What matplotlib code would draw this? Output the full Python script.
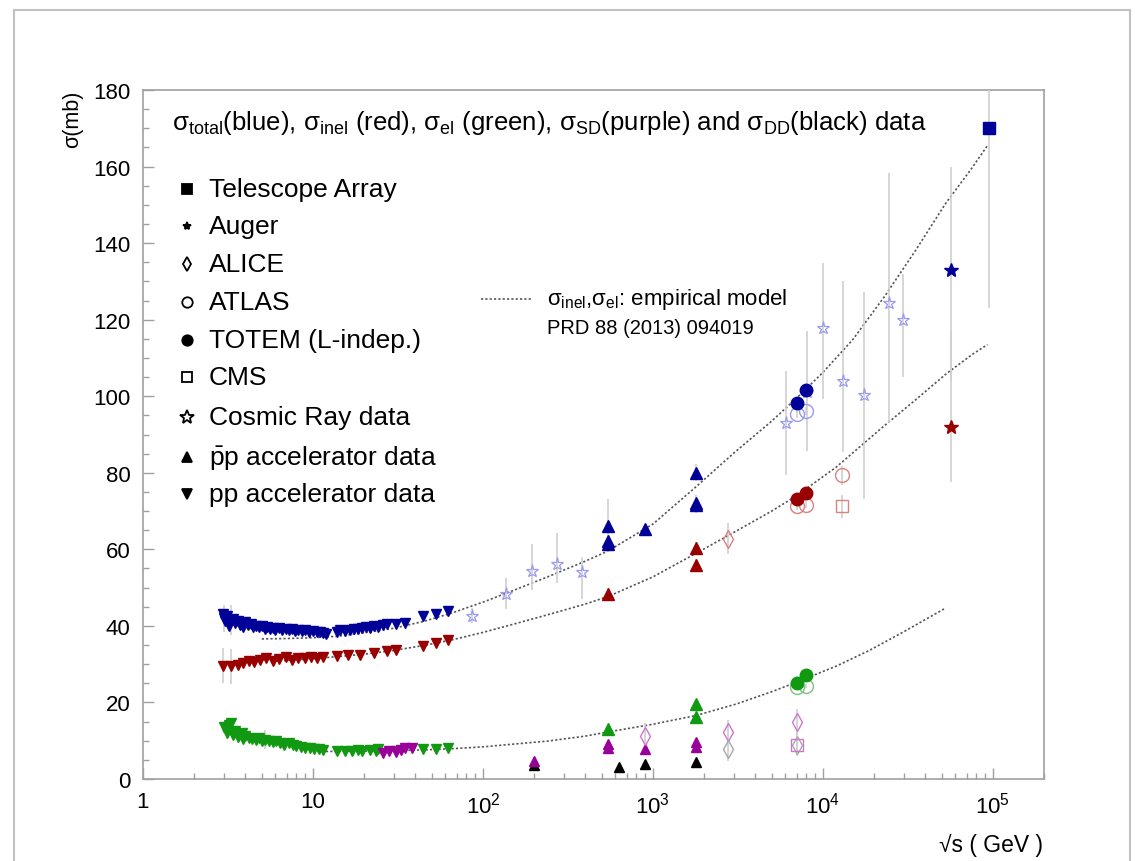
import matplotlib
matplotlib.use('Agg')
import matplotlib.pyplot as plt
from matplotlib.lines import Line2D
from matplotlib.patches import Rectangle

plt.rcParams['font.family'] = ['Liberation Sans', 'DejaVu Sans']
plt.rcParams['mathtext.fontset'] = 'custom'
plt.rcParams['mathtext.rm'] = 'Liberation Sans'
plt.rcParams['mathtext.it'] = 'Liberation Sans:italic'
plt.rcParams['mathtext.bf'] = 'Liberation Sans:bold'
plt.rcParams['mathtext.sf'] = 'Liberation Sans'

# ---------------- data ----------------
# low-energy pp accelerator data (downward triangles)
tot_pp_E = [2.95, 3.0, 3.05, 3.1, 3.2, 3.3, 3.4, 3.5, 3.6, 3.7, 3.8, 3.9, 4.0, 4.15, 4.3, 4.45, 4.6, 4.8,
            5.0, 5.2, 5.4, 5.6, 5.8, 6.0, 6.3, 6.6, 6.9, 7.2, 7.5, 7.8, 8.2, 8.6, 9.0, 9.5, 10.0, 10.5,
            11.0, 11.5, 12.0, 13.8, 14.5, 15.5, 16.5, 17.5, 18.5, 19.4, 20.5, 21.7, 23.0, 24.0, 26.0,
            27.4, 30.6, 35.0, 44.6, 52.8, 62.5]
tot_pp_s = [43.0, 42.0, 41.2, 42.6, 40.0, 41.5, 41.8, 40.8, 41.2, 40.3, 40.8, 39.8, 40.9, 40.2, 40.5,
            39.7, 40.1, 39.6, 39.9, 39.3, 39.7, 39.2, 39.5, 39.0, 39.4, 38.9, 39.2, 38.8, 39.1, 38.7,
            39.0, 38.6, 38.9, 38.5, 38.7, 38.3, 38.5, 38.1, 38.0, 38.4, 38.8, 38.6, 39.0, 39.3, 39.1,
            39.5, 39.7, 39.4, 40.0, 39.8, 40.3, 40.6, 40.5, 40.8, 42.5, 43.0, 43.8]
tot_pp_err = [1.0, 3.5, 1.0, 1.0, 1.0, 4.0, 1.0, 0.8, 1.5, 0.8, 0.8, 0.8, 0.8, 0.6, 0.6, 0.6, 0.6, 0.6,
              0.6, 0.6, 0.6, 0.6, 0.6, 0.6, 0.6, 0.6, 0.6, 0.6, 0.6, 0.6, 0.6, 0.6, 0.6, 0.6, 0.6, 0.6,
              0.6, 0.6, 0.6, 0.6, 0.6, 0.6, 0.6, 0.6, 0.6, 0.6, 0.6, 0.6, 0.6, 0.6, 0.6, 0.6, 0.6, 0.6,
              0.6, 0.6, 1.5]

inel_pp_E = [2.95, 3.3, 3.6, 3.9, 4.2, 4.5, 4.9, 5.3, 5.8, 6.3, 6.9, 7.5, 8.2, 9.0, 9.8, 10.6, 11.5,
             13.8, 16.0, 19.0, 23.0, 27.4, 30.6, 44.6, 52.8, 62.5]
inel_pp_s = [29.6, 29.4, 29.8, 30.4, 30.9, 30.5, 31.2, 31.6, 30.8, 31.4, 31.8, 31.2, 31.6, 31.5, 31.9,
             31.6, 32.0, 32.2, 32.3, 32.5, 33.0, 33.5, 33.6, 34.8, 35.4, 36.4]
inel_pp_err = [4.5, 4.5, 1.0, 1.0, 1.0, 1.0, 1.0, 1.0, 1.0, 1.0, 1.0, 1.0, 1.0, 1.0, 1.0, 1.0, 1.0,
               0.8, 0.8, 0.8, 0.8, 0.8, 0.8, 0.8, 0.8, 0.8]

el_pp_E = [3.0, 3.1, 3.2, 3.3, 3.4, 3.5, 3.6, 3.8, 3.9, 4.0, 4.2, 4.4, 4.6, 4.8, 5.0, 5.2, 5.5, 5.8,
           6.1, 6.4, 6.8, 7.2, 7.6, 8.0, 8.5, 9.0, 9.6, 10.2, 10.8, 11.5, 13.8, 15.5, 17.0, 18.5,
           19.5, 21.7, 23.5, 24.0, 30.6, 44.6, 52.8, 62.5]
el_pp_s = [13.5, 12.0, 14.0, 14.5, 11.5, 12.5, 11.0, 12.0, 10.5, 11.2, 10.8, 10.5, 10.2, 10.6, 9.8,
           10.3, 9.9, 9.6, 9.8, 9.4, 9.0, 9.3, 8.8, 8.6, 8.4, 8.2, 8.0, 7.9, 7.8, 7.6, 7.3, 7.3, 7.4,
           7.5, 7.3, 7.6, 7.4, 7.9, 7.4, 7.8, 7.8, 8.0]
el_pp_err = [1.5, 1.5, 2.0, 1.0, 1.0, 1.0, 1.5, 1.0, 1.0, 1.0, 1.0, 1.0, 1.0, 1.0, 1.0, 2.5, 1.0, 1.0,
             1.0, 0.8, 0.8, 0.8, 0.8, 0.8, 0.8, 0.8, 1.5, 0.6, 0.6, 0.6, 0.5, 0.5, 0.5, 0.5, 0.5, 0.5,
             0.5, 0.5, 0.5, 0.5, 0.5, 0.5]

sd_pp_E = [26.0, 28.0, 30.6, 33.0, 35.0, 38.0]
sd_pp_s = [6.8, 7.3, 7.0, 7.6, 8.2, 8.0]

# ppbar accelerator data (upward triangles)
tot_ppb_E = [546, 546, 546, 900, 1800, 1800, 1800]
tot_ppb_s = [61.3, 62.2, 66.2, 65.3, 72.1, 71.5, 80.0]
tot_ppb_err = [1.5, 1.5, 7.0, 1.0, 2.0, 2.0, 2.2]
inel_ppb_E = [546, 1800, 1800]
inel_ppb_s = [48.4, 60.3, 56.0]
el_ppb_E = [546, 1800, 1800]
el_ppb_s = [13.1, 19.7, 16.2]
sd_ppb_E = [200, 546, 546, 900, 1800, 1800]
sd_ppb_s = [4.8, 8.0, 9.2, 7.8, 8.3, 9.6]
dd_ppb_E = [200, 630, 900, 1800]
dd_ppb_s = [3.6, 3.2, 3.9, 4.4]

# cosmic ray data (open stars, total)
cr_E = [86, 136, 194, 272, 382, 6100, 8100, 10000, 13100, 17400, 24400, 29500]
cr_s = [42.7, 48.4, 54.4, 56.2, 54.1, 92.9, 101.0, 117.7, 104.0, 100.2, 124.3, 120.0]
cr_up = [2.0, 4.0, 7.0, 8.0, 4.0, 13.8, 16.0, 17.0, 26.0, 27.0, 34.0, 12.0]
cr_dn = [2.0, 4.0, 5.0, 5.0, 7.0, 13.6, 15.4, 18.3, 18.5, 27.0, 31.4, 15.0]

# Auger, Telescope Array
auger_E = [57000]
auger_tot = [133.0]
auger_tot_up, auger_tot_dn = [27.0], [29.0]
auger_inel = [92.0]
auger_inel_up, auger_inel_dn = [25.0], [14.3]
ta_E = [95000]
ta_tot = [170.0]
ta_up, ta_dn = [48.0], [47.0]

# TOTEM (filled circles), ATLAS (open circles)
totem_E = [7000, 8000]
totem_tot = [98.3, 101.7]
totem_inel = [73.2, 74.7]
totem_el = [25.1, 27.1]
atlas_E = [7000, 8000, 13000]
atlas_tot = [95.4, 96.1]
atlas_inel = [71.3, 71.7, 79.3]
atlas_el = [24.0, 24.3]

# CMS (open squares)
cms_inel_E, cms_inel_s = [13000], [71.3]
cms_sd_E, cms_sd_s = [7000], [8.8]

# ALICE (open diamonds)
alice_inel_E, alice_inel_s = [2760], [62.8]
alice_sd_E, alice_sd_s = [900, 2760, 7000], [11.2, 12.2, 14.9]
alice_dd_E, alice_dd_s = [2760, 7000], [7.8, 9.0]

# empirical model curves
mod_tot_E = [5, 7, 10, 14, 20, 30, 45, 65, 100, 150, 240, 400, 546, 1000, 1800, 3000, 5000, 7000,
             10000, 15000, 23000, 35000, 53000, 75000, 93000]
mod_tot_s = [36.6, 36.7, 36.9, 37.3, 38.2, 39.4, 41.2, 43.3, 46.2, 49.2, 52.8, 56.9, 59.6, 66.6,
             76.4, 85.2, 93.5, 99.5, 106.2, 114.8, 126.0, 138.0, 150.5, 159.5, 165.5]
mod_inel_E = [6, 10, 20, 30, 45, 65, 100, 150, 240, 400, 546, 1000, 1800, 3100, 5000, 7000, 12000,
              23000, 35000, 53000, 75000, 93000]
mod_inel_s = [30.8, 31.4, 32.6, 33.6, 34.9, 36.3, 38.3, 40.4, 42.9, 45.7, 47.7, 52.8, 59.0, 64.8,
              70.0, 74.0, 81.5, 92.3, 99.0, 105.8, 110.8, 113.5]
mod_el_E = [10, 14, 20, 30, 45, 65, 100, 150, 240, 400, 546, 1000, 1800, 3100, 5000, 7000, 12000,
            18600, 30000, 52000]
mod_el_s = [7.2, 7.2, 7.3, 7.4, 7.6, 7.9, 8.4, 9.1, 9.9, 11.2, 12.3, 14.3, 16.6, 19.6, 22.8, 25.3,
            29.5, 33.5, 38.5, 44.5]

x_ticks = [1, 10, 100, 1000, 10000, 100000]
x_ticklabels = ['1', '10', r'$\mathregular{10^{2}}$', r'$\mathregular{10^{3}}$',
                r'$\mathregular{10^{4}}$', r'$\mathregular{10^{5}}$']
y_ticks = [0, 20, 40, 60, 80, 100, 120, 140, 160, 180]

legend_labels = ['Telescope Array', 'Auger', 'ALICE', 'ATLAS', 'TOTEM (L-indep.)', 'CMS',
                 'Cosmic Ray data', r'$\bar{\mathrm{p}}$p accelerator data', 'pp accelerator data']

# ---------------- style ----------------
BLUE = '#000099'
RED = '#990000'
GREEN = '#119911'
PURPLE = '#990099'
BLACK = '#000000'
LBLUE = '#9a9af0'
LRED = '#dd8080'
LGREEN = '#80c080'
LPURPLE = '#cc77cc'
GRAY = '#a8a8a8'
ERRC = '#cfcfcf'
MODC = '#555555'

W, H = 1135, 862
fig = plt.figure(figsize=(W / 100, H / 100), dpi=100)
ax = fig.add_axes([143 / W, (H - 780) / H, (1044 - 143) / W, (780 - 91) / H])
ax.set_xscale('log')
ax.set_xlim(1, 2e5)
ax.set_ylim(0, 180)

for sp in ax.spines.values():
    sp.set_color('#a0a0a0')
    sp.set_linewidth(1.2)

ax.set_xticks(x_ticks)
ax.set_xticklabels(x_ticklabels)
ax.set_yticks(y_ticks)
ax.yaxis.set_minor_locator(matplotlib.ticker.MultipleLocator(5))
ax.xaxis.set_minor_locator(matplotlib.ticker.LogLocator(base=10, subs=range(2, 10), numticks=20))
ax.xaxis.set_minor_formatter(matplotlib.ticker.NullFormatter())
ax.tick_params(which='both', direction='in', color='#a0a0a0', top=False, right=False)
ax.tick_params(which='major', length=8, width=1.0, labelsize=16)
ax.tick_params(which='minor', length=4, width=1.0)
ax.tick_params(axis='x', which='major', pad=9)
ax.tick_params(axis='y', which='major', pad=9)

ax.set_ylabel('σ(mb)', fontsize=15.5, loc='top')
ax.yaxis.set_label_coords(-0.066, 1.0)


def ep(E, s, err, marker, color, ms, mfc=None, mew=1.0, z=3):
    ax.errorbar(E, s, yerr=err, fmt=marker, color=color, mec=color,
                mfc=color if mfc is None else mfc, ms=ms, mew=mew,
                ecolor=ERRC, elinewidth=1.2, capsize=0, zorder=z, clip_on=True)


# model curves
ls_dot = (0, (1.3, 1.3))
ax.plot(mod_tot_E, mod_tot_s, color=MODC, lw=1.2, ls=ls_dot, zorder=2)
ax.plot(mod_inel_E, mod_inel_s, color=MODC, lw=1.2, ls=ls_dot, zorder=2)
ax.plot(mod_el_E, mod_el_s, color=MODC, lw=1.2, ls=ls_dot, zorder=2)

# cosmic rays
ep(cr_E, cr_s, [cr_dn, cr_up], '*', LBLUE, 9.5, mfc='none', mew=0.9, z=2)

# pp low energy
ep(tot_pp_E, tot_pp_s, tot_pp_err, 'v', BLUE, 6.5)
ep(inel_pp_E, inel_pp_s, inel_pp_err, 'v', RED, 6.5)
ep(el_pp_E, el_pp_s, el_pp_err, 'v', GREEN, 6.5)
ep(sd_pp_E, sd_pp_s, 0.5, 'v', PURPLE, 6.5)

# ppbar
ep(tot_ppb_E, tot_ppb_s, tot_ppb_err, '^', BLUE, 8)
ep(inel_ppb_E, inel_ppb_s, 1.5, '^', RED, 8)
ep(el_ppb_E, el_ppb_s, 0.8, '^', GREEN, 8)
ep(dd_ppb_E, dd_ppb_s, 0.6, '^', BLACK, 7)
ep(sd_ppb_E, sd_ppb_s, 0.8, '^', PURPLE, 7.5)

# ALICE
ep(alice_inel_E, alice_inel_s, 4.0, 'd', LRED, 9, mfc='none', mew=1.0)
ep(alice_sd_E, alice_sd_s, 3.3, 'd', LPURPLE, 9, mfc='none', mew=1.0)
ep(alice_dd_E, alice_dd_s, 3.0, 'd', GRAY, 9, mfc='none', mew=1.0)

# CMS
ep(cms_inel_E, cms_inel_s, 3.0, 's', LRED, 9, mfc='none', mew=1.0)
ep(cms_sd_E, cms_sd_s, 1.5, 's', LPURPLE, 9, mfc='none', mew=1.0)

# ATLAS
ep(atlas_E[:2], atlas_tot, 1.0, 'o', LBLUE, 10, mfc='none', mew=1.0)
ep(atlas_E, atlas_inel, [1.0, 1.0, 2.5], 'o', LRED, 10, mfc='none', mew=1.0)
ep(atlas_E[:2], atlas_el, 0.6, 'o', LGREEN, 10, mfc='none', mew=1.0)

# TOTEM
ep(totem_E, totem_tot, 1.5, 'o', BLUE, 9)
ep(totem_E, totem_inel, 1.0, 'o', RED, 9)
ep(totem_E, totem_el, 0.8, 'o', GREEN, 9)

# Auger & TA
ep(auger_E, auger_tot, [auger_tot_dn, auger_tot_up], '*', BLUE, 10, z=4)
ep(auger_E, auger_inel, [auger_inel_dn, auger_inel_up], '*', RED, 10, z=4)
ep(ta_E, ta_tot, [ta_dn, ta_up], 's', BLUE, 8, z=4)


# ---------------- texts & legend (figure pixel coords) ----------------
def F(x, y):
    return (x / W, 1 - y / H)


hdr = (r'$\mathrm{\sigma_{total}}$(blue), $\mathrm{\sigma_{inel}}$ (red), '
       r'$\mathrm{\sigma_{el}}$ (green), $\mathrm{\sigma_{SD}}$(purple) and '
       r'$\mathrm{\sigma_{DD}}$(black) data')
fig.text(*F(172, 123), hdr, fontsize=18.5, va='center', ha='left')

leg_y = [190, 227, 265, 303, 341, 378, 418, 458, 495]
leg_mk = [('s', True, 7), ('*', True, 6), ('d', False, 7), ('o', False, 7.5), ('o', True, 7.5),
          ('s', False, 7), ('*', False, 10), ('^', True, 7), ('v', True, 7)]
for y, (mk, filled, ms), lab in zip(leg_y, leg_mk, legend_labels):
    fig.add_artist(Line2D([187 / W], [1 - y / H], marker=mk, ms=ms, color='black',
                          mfc='black' if filled else 'none', mew=1.3, transform=fig.transFigure))
    fig.text(*F(209, y), lab, fontsize=19, va='center', ha='left')

fig.add_artist(Line2D([481 / W, 533 / W], [1 - 300 / H, 1 - 300 / H], color=MODC, lw=1.2,
                      ls=ls_dot, transform=fig.transFigure))
fig.text(*F(547, 300), r'$\mathrm{\sigma_{inel}}$,$\mathrm{\sigma_{el}}$: empirical model',
         fontsize=16, va='center', ha='left')
fig.text(*F(547, 329), 'PRD 88 (2013) 094019', fontsize=14.5, va='center', ha='left')

fig.text(*F(1043, 845), '√s ( GeV )', fontsize=16.5, va='center', ha='right')

# outer frame of the panel
fig.add_artist(Rectangle(F(14, 880), (1130 - 14) / W, (880 - 11) / H, transform=fig.transFigure,
                         fill=False, ec='#c0c0c0', lw=1.5))

fig.savefig('out.png', dpi=100)
